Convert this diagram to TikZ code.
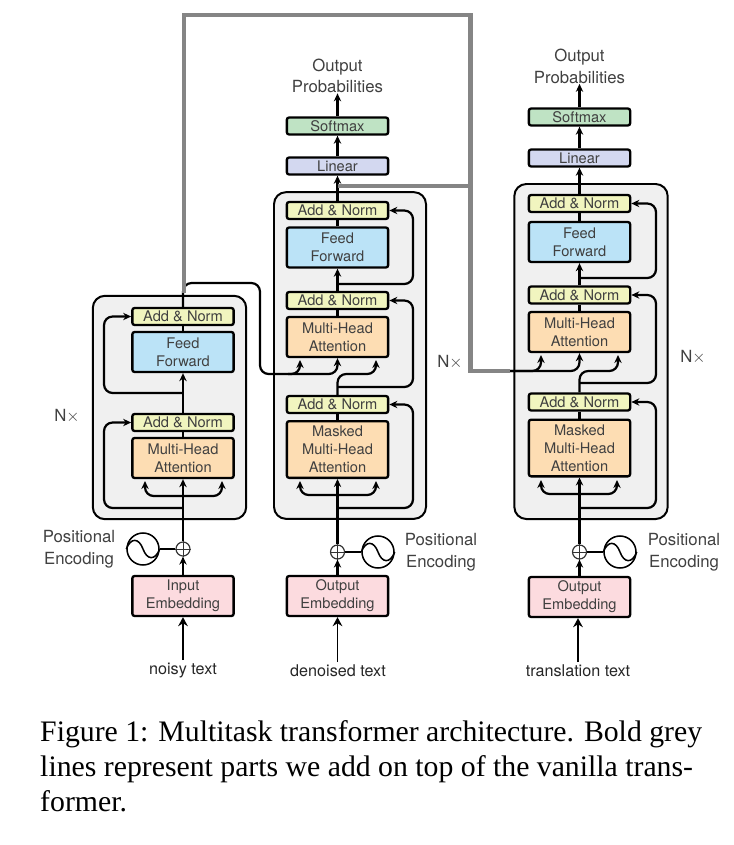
\documentclass[tikz,border=0pt]{standalone}
\usepackage{xcolor}
\usepackage{fontspec}
\setmainfont{TeX Gyre Heros}
\newfontfamily\capfont{Liberation Serif}
\usetikzlibrary{arrows.meta,positioning,backgrounds}
\definecolor{normcol}{HTML}{F1F5BF}
\definecolor{feedcol}{HTML}{BBE3F7}
\definecolor{attcol}{HTML}{FDDDB3}
\definecolor{embedcol}{HTML}{FCDBDF}
\definecolor{softcol}{HTML}{BFE3C4}
\definecolor{lincol}{HTML}{D3D8F0}
\definecolor{stackcol}{HTML}{F0F0F0}
\definecolor{boldgrey}{HTML}{858585}
\definecolor{labelcol}{HTML}{404040}
\begin{document}
\begin{tikzpicture}[
    x=0.3mm, y=-0.3mm,
    >={Stealth[length=2.4mm,width=2.2mm]},
    block/.style={draw=black, line width=2pt, rounded corners=0.7mm, align=center, inner sep=0pt, minimum width=30.4mm, minimum height=5.1mm, text=labelcol, font=\fontsize{12.5pt}{15.3pt}\selectfont},
    norm/.style={block, fill=normcol},
    feed/.style={block, fill=feedcol, minimum height=12mm},
    att/.style={block, fill=attcol, minimum height=12mm},
    masked/.style={block, fill=attcol, minimum height=17mm},
    embed/.style={block, fill=embedcol, minimum height=12mm},
    soft/.style={block, fill=softcol},
    lin/.style={block, fill=lincol},
    stack/.style={draw=black, line width=1.7pt, rounded corners=3.6mm, fill=stackcol},
    plain/.style={align=center, inner sep=0pt, text=labelcol, font=\fontsize{14.3pt}{18.3pt}\selectfont},
    inlabel/.style={anchor=base, inner sep=0pt, text=black!85, font=\fontsize{13.8pt}{16pt}\selectfont},
    adder/.style={draw=black!80, circle, line width=1pt, minimum size=4.2mm, inner sep=0pt, fill=white},
    wave/.style={draw=black, circle, line width=1.3pt, minimum size=9.6mm, inner sep=0pt, fill=white},
    arrow/.style={->, line width=1.9pt, rounded corners=2.6mm},
    flow/.style={line width=1.9pt, rounded corners=2.6mm},
    inarrow/.style={-{Stealth[length=2.7mm,width=2.9mm]}, line width=1.3pt},
    bold/.style={draw=boldgrey, line width=1.4mm, line cap=butt, line join=miter}
  ]
    \useasboundingbox (0,0) rectangle (734,845);

    % encoder stack
    \node[stack, minimum width=46mm, minimum height=67mm] (encbox) at (169.5,407.5) {};
    \node[norm] (encnormb) at (183,316.5) {Add \& Norm};
    \node[feed] (encfeed) at (183,352) {Feed\\Forward};
    \node[norm] (encnorma) at (183,422.5) {Add \& Norm};
    \node[att] (encatt) at (183,458) {Multi-Head\\Attention};
    \node[embed] (encembed) at (183,596) {Input\\Embedding};
    \node[adder] (encplus) at (183,549) {};
    \node[wave] (encwave) at (143,549) {};
    \node[plain] (encpos) at (79,549) {Positional\\Encoding};
    \node[plain] (encn) at (67,416) {N$\times$};
    \node[inlabel] (encin) at (183,674) {noisy text};

    % decoder stack in the middle
    \node[stack, minimum width=45.6mm, minimum height=98mm] (midbox) at (350,355.5) {};
    \node[norm] (midnormc) at (337.5,210.5) {Add \& Norm};
    \node[feed] (midfeed) at (337.5,247.5) {Feed\\Forward};
    \node[norm] (midnormb) at (337.5,300.5) {Add \& Norm};
    \node[att] (midatt) at (337.5,337) {Multi-Head\\Attention};
    \node[norm] (midnorma) at (337.5,404.5) {Add \& Norm};
    \node[masked] (midmask) at (337.5,449.5) {Masked\\Multi-Head\\Attention};
    \node[embed] (midembed) at (337.5,596) {Output\\Embedding};
    \node[lin] (midlin) at (337.5,166) {Linear};
    \node[soft] (midsoft) at (337.5,126) {Softmax};
    \node[plain] (midprob) at (337.5,76) {Output\\Probabilities};
    \node[adder] (midplus) at (337.5,552) {};
    \node[wave] (midwave) at (378,552) {};
    \node[plain] (midpos) at (441,552) {Positional\\Encoding};
    \node[plain] (midn) at (450,362) {N$\times$};
    \node[inlabel] (midin) at (338,676) {denoised text};

    % decoder stack on the right
    \node[stack, minimum width=46mm, minimum height=100.5mm] (rightbox) at (591,351.5) {};
    \node[norm] (rightnormc) at (579.5,203.5) {Add \& Norm};
    \node[feed] (rightfeed) at (579.5,242) {Feed\\Forward};
    \node[norm] (rightnormb) at (579.5,295) {Add \& Norm};
    \node[att] (rightatt) at (579.5,332) {Multi-Head\\Attention};
    \node[norm] (rightnorma) at (579.5,402) {Add \& Norm};
    \node[masked] (rightmask) at (579.5,448) {Masked\\Multi-Head\\Attention};
    \node[embed] (rightembed) at (579.5,597) {Output\\Embedding};
    \node[lin] (rightlin) at (579.5,158) {Linear};
    \node[soft] (rightsoft) at (579.5,117) {Softmax};
    \node[plain] (rightprob) at (579.5,66.5) {Output\\Probabilities};
    \node[adder] (rightplus) at (579.5,552) {};
    \node[wave] (rightwave) at (620,552) {};
    \node[plain] (rightpos) at (684,552) {Positional\\Encoding};
    \node[plain] (rightn) at (693,357) {N$\times$};
    \node[inlabel] (rightin) at (578,676) {translation text};

    \node[anchor=north west, inner sep=0pt, align=left, font=\capfont\fontsize{25.4pt}{29.8pt}\selectfont] (caption) at (40,720)
      {Figure 1: Multitask transformer architecture. Bold grey\\lines represent parts we add on top of the vanilla trans-\\former.};

    % free ends of the connectors
    \coordinate (encrail) at (104,0);
    \coordinate (encresb) at (183,393);
    \coordinate (encresa) at (183,508);
    \coordinate (encfork) at (183,496);
    \coordinate (encforkl) at (145,481);
    \coordinate (encforkr) at (222,481);
    \coordinate (encinend) at (183,660);
    \coordinate (crossup) at (260,283);
    \coordinate (crossstart) at (288,374);
    \coordinate (midrail) at (413,0);
    \coordinate (midresc) at (337.5,284);
    \coordinate (midresb) at (337.5,387);
    \coordinate (midresa) at (337.5,508);
    \coordinate (midfork) at (337.5,495);
    \coordinate (midforkl) at (300,481);
    \coordinate (midforkr) at (376,481);
    \coordinate (midattl) at (300,360);
    \coordinate (midattr) at (376,360);
    \coordinate (midturn) at (337.5,374);
    \coordinate (midinend) at (337.5,662);
    \coordinate (rightrail) at (656,0);
    \coordinate (rightcross) at (510,371);
    \coordinate (rightattl) at (541,355);
    \coordinate (rightattr) at (618,355);
    \coordinate (rightturn) at (579.5,371);
    \coordinate (rightresc) at (579.5,278);
    \coordinate (rightresb) at (579.5,383);
    \coordinate (rightresa) at (579.5,508);
    \coordinate (rightfork) at (579.5,494);
    \coordinate (rightforkl) at (541,480);
    \coordinate (rightforkr) at (617,480);
    \coordinate (rightinend) at (578,662);
    \coordinate (boldstart) at (184,293);
    \coordinate (boldtopl) at (184,15);
    \coordinate (boldtopr) at (470.5,15);
    \coordinate (boldmid) at (470.5,186);
    \coordinate (boldend) at (337.5,186);

    % encoder connectors
    \draw[inarrow] (encinend) -- (encembed.south);
    \draw[arrow] (encembed.north) -- (encplus.south);
    \draw[arrow] (encplus.north) -- (encatt.south);
    \draw[flow] (encplus.west) -- (encwave.east);
    \draw[flow] (encatt.north) -- (encnorma.south);
    \draw[arrow] (encnorma.north) -- (encfeed.south);
    \draw[flow] (encfeed.north) -- (encnormb.south);
    \draw[arrow] (encresa) -| (encnorma.west -| encrail) -- (encnorma.west);
    \draw[arrow] (encresb) -| (encnormb.west -| encrail) -- (encnormb.west);
    \draw[arrow] (encfork) -| (encforkl);
    \draw[arrow] (encfork) -| (encforkr);
    \draw[flow] (encnormb.north) |- (crossup) |- (crossstart);
    \draw[arrow] (crossstart) -| (midattl);
    \draw[arrow] (crossstart) -| (midatt.south);

    % middle connectors
    \draw[inarrow] (midinend) -- (midembed.south);
    \draw[arrow] (midembed.north) -- (midplus.south);
    \draw[arrow] (midplus.north) -- (midmask.south);
    \draw[flow] (midplus.east) -- (midwave.west);
    \draw[flow] (midmask.north) -- (midnorma.south);
    \draw[flow] (midatt.north) -- (midnormb.south);
    \draw[arrow] (midnormb.north) -- (midfeed.south);
    \draw[flow] (midfeed.north) -- (midnormc.south);
    \draw[arrow] (midnormc.north) -- (midlin.south);
    \draw[arrow] (midlin.north) -- (midsoft.south);
    \draw[arrow] (midsoft.north) -- (midprob.south);
    \draw[arrow] (midresa) -| (midnorma.east -| midrail) -- (midnorma.east);
    \draw[arrow] (midresb) -| (midnormb.east -| midrail) -- (midnormb.east);
    \draw[arrow] (midresc) -| (midnormc.east -| midrail) -- (midnormc.east);
    \draw[arrow] (midfork) -| (midforkl);
    \draw[arrow] (midfork) -| (midforkr);
    \draw[arrow] (midnorma.north) -- (midturn) -| (midattr);

    % right connectors
    \draw[inarrow] (rightinend) -- (rightinend |- rightembed.south);
    \draw[arrow] (rightembed.north) -- (rightplus.south);
    \draw[arrow] (rightplus.north) -- (rightmask.south);
    \draw[flow] (rightplus.east) -- (rightwave.west);
    \draw[flow] (rightmask.north) -- (rightnorma.south);
    \draw[flow] (rightatt.north) -- (rightnormb.south);
    \draw[arrow] (rightnormb.north) -- (rightfeed.south);
    \draw[flow] (rightfeed.north) -- (rightnormc.south);
    \draw[arrow] (rightnormc.north) -- (rightlin.south);
    \draw[arrow] (rightlin.north) -- (rightsoft.south);
    \draw[arrow] (rightsoft.north) -- (rightprob.south);
    \draw[arrow] (rightresa) -| (rightnorma.east -| rightrail) -- (rightnorma.east);
    \draw[arrow] (rightresb) -| (rightnormb.east -| rightrail) -- (rightnormb.east);
    \draw[arrow] (rightresc) -| (rightnormc.east -| rightrail) -- (rightnormc.east);
    \draw[arrow] (rightfork) -| (rightforkl);
    \draw[arrow] (rightfork) -| (rightforkr);
    \draw[arrow] (rightcross) -| (rightattl);
    \draw[arrow] (rightcross) -| (rightatt.south);
    \draw[arrow] (rightnorma.north) -- (rightturn) -| (rightattr);

    % adders and sine waves
    \foreach \n in {encplus,midplus,rightplus} {
      \draw[line width=0.8pt, black!80] (\n.north) -- (\n.south) (\n.west) -- (\n.east);
    }
    \foreach \n in {encwave,midwave,rightwave} {
      \draw[line width=1.3pt] (\n.west) .. controls ([shift={(-12,-12)}]\n.center) and ([shift={(-4,-11)}]\n.center) .. (\n.center) .. controls ([shift={(4,11)}]\n.center) and ([shift={(12,12)}]\n.center) .. (\n.east);
    }

    % bold grey lines
    \draw[bold] (boldstart) -- (boldtopl) -- (boldtopr) -- (boldmid |- rightcross) -- (rightcross);
    \draw[bold] (boldmid) -- (boldend);
  \end{tikzpicture}
\end{document}
